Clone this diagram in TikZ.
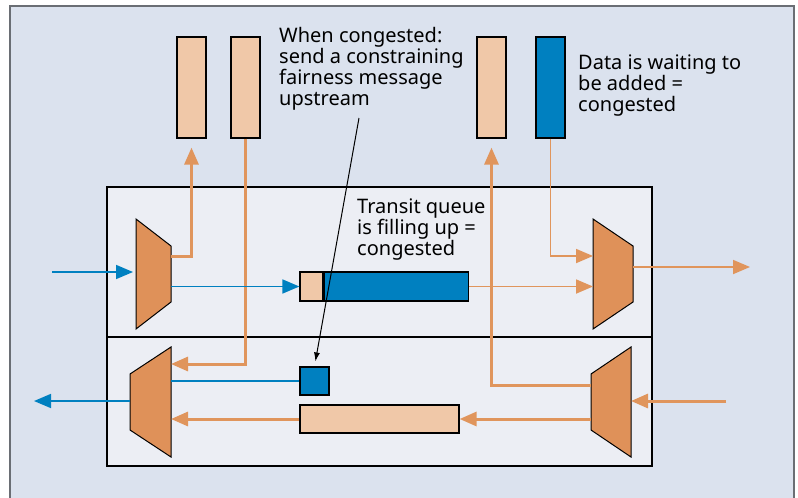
\documentclass[tikz,border=0pt]{standalone}
\usepackage{fontspec}
\setmainfont{Noto Sans}
\usetikzlibrary{arrows.meta}
\definecolor{bgout}{HTML}{DBE2EE}
\definecolor{bgin}{HTML}{ECEEF4}
\definecolor{muxor}{HTML}{DF9159}
\definecolor{lineor}{HTML}{E0955C}
\definecolor{peach}{HTML}{F0C8A8}
\definecolor{qblue}{HTML}{0080C0}
\definecolor{framegray}{HTML}{6A6E74}
\tikzset{
  tipA/.tip={Triangle[length=17pt,width=14pt]},
  orthick/.style={draw=lineor, line width=3pt, -tipA},
  orthin/.style={draw=lineor, line width=1.8pt, -tipA},
  bluearr/.style={draw=qblue, line width=1.7pt, -tipA},
  blueline/.style={draw=qblue, line width=1.7pt},
  boxst/.style={draw=black, line width=1.2pt, inner sep=0pt},
  peachbox/.style={boxst, fill=peach},
  bluebox/.style={boxst, fill=qblue},
  muxbox/.style={inner sep=0pt, outer sep=0pt},
  muxst/.style={draw=black, line width=1pt, fill=muxor, line join=miter},
  lbl/.style={align=left, inner sep=0pt, font=\fontsize{20}{21}\selectfont, text=black},
  annot/.style={draw=black, line width=1pt, -{Latex[length=9pt,width=6pt]}},
  panel/.style={draw=black, line width=1.2pt, fill=bgin, inner sep=0pt}
}
\newcommand\muxWideLeft[1]{\draw[muxst] (#1.north west) -- ([yshift=-27pt]#1.north east) -- ([yshift=27pt]#1.south east) -- (#1.south west) -- cycle;}
\newcommand\muxWideRight[1]{\draw[muxst] ([yshift=-27pt]#1.north west) -- (#1.north east) -- (#1.south east) -- ([yshift=27pt]#1.south west) -- cycle;}
\begin{document}
\begin{tikzpicture}[x=1pt,y=-1pt]
\useasboundingbox (0,0) rectangle (798,498);
% outer background
\fill[bgout] (10,6) rectangle (794,512);
\draw[framegray, line width=1.5pt] (10,512) -- (10,6) -- (794,6) -- (794,512);
% panels
\node[panel, minimum width=545pt, minimum height=150pt] (ptop) at (379.5,262) {};
\node[panel, minimum width=545pt, minimum height=129pt] (pbot) at (379.5,401.5) {};
% top queues
\node[peachbox, minimum width=29pt, minimum height=101pt] (r1) at (191.5,87.5) {};
\node[peachbox, minimum width=29pt, minimum height=101pt] (r2) at (245.5,87.5) {};
\node[peachbox, minimum width=29pt, minimum height=101pt] (r3) at (491.5,87.5) {};
\node[bluebox, minimum width=29pt, minimum height=101pt] (r4) at (550.5,87.5) {};
% transit queue
\node[peachbox, minimum width=23pt, minimum height=29pt] (qa) at (311.5,286.5) {};
\node[bluebox, minimum width=144pt, minimum height=29pt, anchor=west] (qb) at (qa.east) {};
% lower queues
\node[bluebox, minimum width=29pt, minimum height=28pt] (sq) at (314.5,381) {};
\node[peachbox, minimum width=159pt, minimum height=28pt] (bar) at (379.5,419) {};
% muxes
\node[muxbox, minimum width=35pt, minimum height=110pt] (mtl) at (153.5,274) {};
\node[muxbox, minimum width=40pt, minimum height=110pt] (mtr) at (613,274) {};
\node[muxbox, minimum width=41pt, minimum height=110pt] (mbl) at (150.5,402) {};
\node[muxbox, minimum width=40pt, minimum height=110pt] (mbr) at (611,402) {};
\muxWideLeft{mtl}
\muxWideLeft{mtr}
\muxWideRight{mbl}
\muxWideRight{mbr}
% free ends
\coordinate (inL) at (52,272);
\coordinate (outR) at (750,267);
\coordinate (inR) at (726,401);
\coordinate (outL) at (34,401);
\coordinate (nstart) at (359,118);
% connectors
\draw[bluearr, shorten >=3pt] (inL) -- (inL -| mtl.west);
\draw[orthick, shorten >=9pt] ([yshift=18pt]mtl.east) -| (r1.south);
\draw[orthick] (r2.south) |- ([yshift=38pt]mbl.east);
\draw[bluearr] (mtl.east |- qa.west) -- (qa.west);
\draw[orthin] (qb.east) -- (qb.east -| mtr.west);
\draw[orthin] (r4.south) |- ([yshift=18pt]mtr.west);
\draw[orthin] (mtr.east |- outR) -- (outR);
\draw[orthick] (inR) -- (inR -| mbr.east);
\draw[orthick, shorten >=9pt] ([yshift=17pt]mbr.west) -| (r3.south);
\draw[orthick] (mbr.west |- bar.east) -- (bar.east);
\draw[orthick] (bar.west) -- (bar.west -| mbl.east);
\draw[blueline] (sq.west) -- (sq.west -| mbl.east);
\draw[bluearr] (mbl.west |- outL) -- (outL);
% labels (base anchor = baseline of last line)
\node[lbl, anchor=base west] (t1) at (279,105) {When congested:\\send a constraining\\fairness message\\upstream};
\node[lbl, anchor=base west] (t2) at (578,111) {Data is waiting to\\be added =\\congested};
\node[lbl, anchor=base west] (t3) at (357,255) {Transit queue\\is filling up =\\congested};
\draw[annot, shorten >=5pt] (nstart) -- (sq.north);
\end{tikzpicture}
\end{document}
